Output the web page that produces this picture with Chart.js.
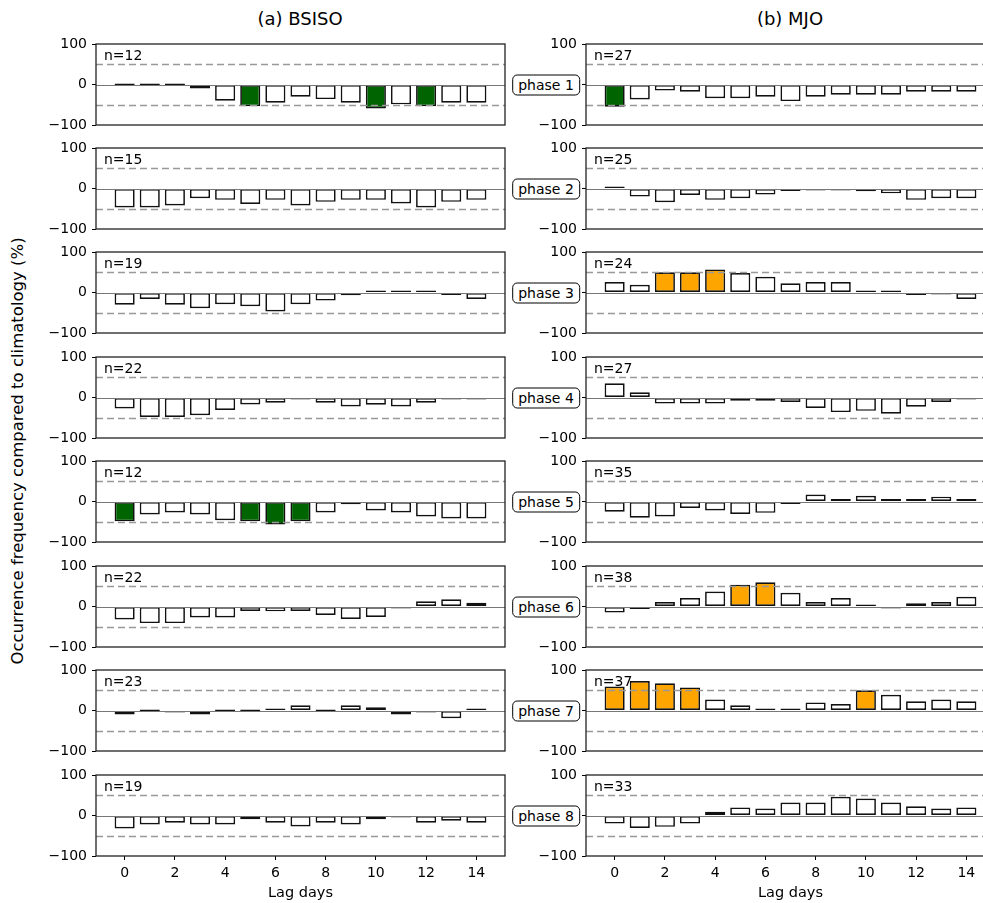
<!DOCTYPE html>
<html>
<head>
<meta charset="utf-8">
<script src="https://cdn.jsdelivr.net/npm/chart.js@4.4.0/dist/chart.umd.min.js"></script>
<style>
  body { margin: 0; background: #fff; font-family: "DejaVu Sans", sans-serif; color: #000; }
  #fig { position: relative; width: 983px; height: 903px; overflow: hidden; background: #fff; }
  #fig canvas { position: absolute; }
  .title { position: absolute; top: 8px; width: 300px; margin-left: -150px; text-align: center;
           font-size: 18px; line-height: 22px; white-space: nowrap; }
  .phase { position: absolute; transform: translate(-50%, -50%); border: 1.5px solid #000; border-radius: 5px;
           padding: 1px 5px; font-size: 14px; line-height: 17px; background: #fff; z-index: 2; white-space: nowrap; }
  .ylabel { position: absolute; left: -232px; top: 441px; width: 500px; height: 20px; line-height: 20px;
            text-align: center; transform: rotate(-90deg); white-space: nowrap; font-size: 16.5px; color: #000; }
</style>
</head>
<body>
<div id="fig">
  <div class="title" style="left:300px">(a) BSISO</div>
  <div class="title" style="left:790px">(b) MJO</div>
  <div class="ylabel">Occurrence frequency compared to climatology (%)</div>
</div>

<script>
// ============================
// DATA
// ============================

const lagDays = [0, 1, 2, 3, 4, 5, 6, 7, 8, 9, 10, 11, 12, 13, 14];
const xTickValues = [0, 2, 4, 6, 8, 10, 12, 14];
const yTickValues = [-100, 0, 100];
const refLines = [50, -50];

const phaseLabels = ['phase 1', 'phase 2', 'phase 3', 'phase 4', 'phase 5', 'phase 6', 'phase 7', 'phase 8'];

const bsisoCounts = [12, 15, 19, 22, 12, 22, 23, 19];
const mjoCounts = [27, 25, 24, 27, 35, 38, 37, 33];

// one row per phase, one value per lag day (%)
const bsisoValues = [
    [0, 0, 0, -10, -40, -54, -45, -30, -36, -45, -59, -49, -54, -45, -45],
    [-47, -47, -42, -24, -28, -38, -28, -42, -33, -28, -28, -37, -47, -33, -28],
    [-30, -16, -30, -39, -29, -34, -47, -29, -20, -7, 2, 2, 2, -6, -16],
    [-27, -48, -48, -44, -31, -17, -13, -5, -13, -22, -18, -22, -13, -5, -5],
    [-49, -32, -27, -32, -46, -49, -57, -49, -27, -7, -22, -27, -37, -42, -42],
    [-32, -41, -41, -27, -27, -11, -12, -11, -21, -31, -26, -2, 13, 18, 9],
    [-10, 0, -5, -10, 0, 0, 4, 13, 0, 13, 8, -10, -5, -19, 4],
    [-32, -22, -18, -22, -22, -9, -18, -27, -18, -22, -9, -5, -18, -13, -18]
];

const mjoValues = [
    [-55, -37, -15, -18, -34, -34, -30, -41, -30, -25, -25, -25, -18, -18, -18],
    [3, -20, -34, -16, -28, -24, -15, -6, -3, -3, -7, -12, -28, -24, -24],
    [26, 19, 50, 50, 57, 48, 39, 23, 26, 26, 5, 5, -6, -2, -16],
    [35, 13, -15, -15, -15, -8, -8, -11, -26, -36, -33, -40, -23, -11, -5],
    [-25, -40, -37, -16, -22, -31, -28, -6, 17, 6, 14, 6, 6, 12, 6],
    [-15, -6, 11, 21, 37, 54, 60, 34, 11, 21, 5, -2, 8, 11, 24],
    [59, 73, 67, 57, 27, 13, 1, 3, 20, 16, 50, 39, 23, 27, 23],
    [-20, -31, -28, -20, 9, 20, 17, 32, 32, 46, 42, 32, 23, 17, 20]
];

// lag-day indices of significant bars per phase
const bsisoSig = [[5, 10, 12], [], [], [], [0, 5, 6, 7], [], [], []];
const mjoSig = [[0], [], [2, 3, 4], [], [], [5, 6], [0, 1, 2, 3, 10], []];


// ============================
// LAYOUT
// ============================

Chart.defaults.font.family = '"DejaVu Sans", sans-serif';
Chart.defaults.color = '#000';

const fig = document.getElementById('fig');
const columnLefts = [96, 586];
const boxWidth = 409;
const boxHeight = 81;
const rowTops = [44, 148, 252, 357, 461, 566, 670, 775];
const axisWidth = 60;
const padTop = 16;


// frame, reference lines and the n= label
const panelDecor = {
    id: 'panelDecor',
    afterDatasetsDraw(chart, args, opts) {
        const ctx = chart.ctx;
        const a = chart.chartArea;
        const y = chart.scales.y;

        ctx.save();

        ctx.lineWidth = 1.5;
        ctx.strokeStyle = '#999';
        ctx.setLineDash([7, 4]);
        refLines.forEach(v => {
            const py = Math.round(y.getPixelForValue(v)) + 0.5;
            ctx.beginPath();
            ctx.moveTo(a.left, py);
            ctx.lineTo(a.right, py);
            ctx.stroke();
        });

        ctx.setLineDash([]);
        ctx.lineWidth = 1;
        ctx.strokeStyle = '#777';
        const zy = Math.round(y.getPixelForValue(0)) + 0.5;
        ctx.beginPath();
        ctx.moveTo(a.left, zy);
        ctx.lineTo(a.right, zy);
        ctx.stroke();

        ctx.lineWidth = 1.3;
        ctx.strokeStyle = '#222';
        ctx.strokeRect(a.left, a.top, a.right - a.left, a.bottom - a.top);

        ctx.fillStyle = '#000';
        ctx.font = '14px "DejaVu Sans"';
        ctx.textBaseline = 'alphabetic';
        ctx.fillText(opts.label, a.left + 8, a.top + 15.5);

        ctx.restore();
    }
};


function barColours(values, sig) {
    return values.map((v, i) => {
        if (!sig.includes(i)) return '#ffffff';
        return v < 0 ? '#006400' : '#ffa500';
    });
}


function makePanel(col, row, values, sig, count) {

    const isBottom = row === rowTops.length - 1;
    const padBottom = isBottom ? 2 : 16;
    const xAxisHeight = isBottom ? 46 : 0;

    const canvas = document.createElement('canvas');
    canvas.width = axisWidth + boxWidth + 2;
    canvas.height = padTop + boxHeight + xAxisHeight + padBottom;
    canvas.style.left = (columnLefts[col] - axisWidth) + 'px';
    canvas.style.top = (rowTops[row] - padTop) + 'px';
    fig.appendChild(canvas);

    new Chart(canvas, {

        type: 'bar',

        data: {
            datasets: [{
                data: values.map((v, i) => ({ x: lagDays[i], y: v })),
                backgroundColor: barColours(values, sig),
                borderColor: '#111',
                borderWidth: 1.7,
                borderSkipped: false,
                minBarLength: 2,
                barPercentage: 0.8,
                categoryPercentage: 1
            }]
        },

        options: {
            responsive: false,
            animation: false,
            events: [],
            layout: {
                padding: { top: padTop, right: 2, bottom: padBottom, left: 0 }
            },
            plugins: {
                legend: { display: false },
                tooltip: { enabled: false },
                panelDecor: { label: 'n=' + count }
            },
            scales: {
                x: {
                    type: 'linear',
                    min: -1.14,
                    max: 15.14,
                    offset: false,
                    display: isBottom,
                    afterBuildTicks: s => { s.ticks = xTickValues.map(v => ({ value: v })); },
                    afterFit: s => { s.height = xAxisHeight; },
                    grid: { offset: false, drawOnChartArea: false, tickLength: 4, tickColor: '#000' },
                    border: { display: false },
                    ticks: { color: '#000', font: { size: 14 }, padding: 5, maxRotation: 0 },
                    title: {
                        display: true,
                        text: 'Lag days',
                        color: '#000',
                        font: { size: 14.5 },
                        padding: { top: 0, bottom: 0 }
                    }
                },
                y: {
                    min: -100,
                    max: 100,
                    afterBuildTicks: s => { s.ticks = yTickValues.map(v => ({ value: v })); },
                    afterFit: s => { s.width = axisWidth; },
                    grid: { drawOnChartArea: false, tickLength: 4, tickColor: '#000' },
                    border: { display: false },
                    ticks: {
                        color: '#000',
                        font: { size: 14 },
                        padding: 5,
                        callback: v => v < 0 ? '\u2212' + Math.abs(v) : String(v)
                    }
                }
            }
        },

        plugins: [panelDecor]
    });
}


// ============================
// BUILD PANELS
// ============================

rowTops.forEach((top, r) => {

    makePanel(0, r, bsisoValues[r], bsisoSig[r], bsisoCounts[r]);
    makePanel(1, r, mjoValues[r], mjoSig[r], mjoCounts[r]);

    const tag = document.createElement('div');
    tag.className = 'phase';
    tag.textContent = phaseLabels[r];
    tag.style.left = '546px';
    tag.style.top = (top + boxHeight / 2) + 'px';
    fig.appendChild(tag);
});
</script>
</body>
</html>
